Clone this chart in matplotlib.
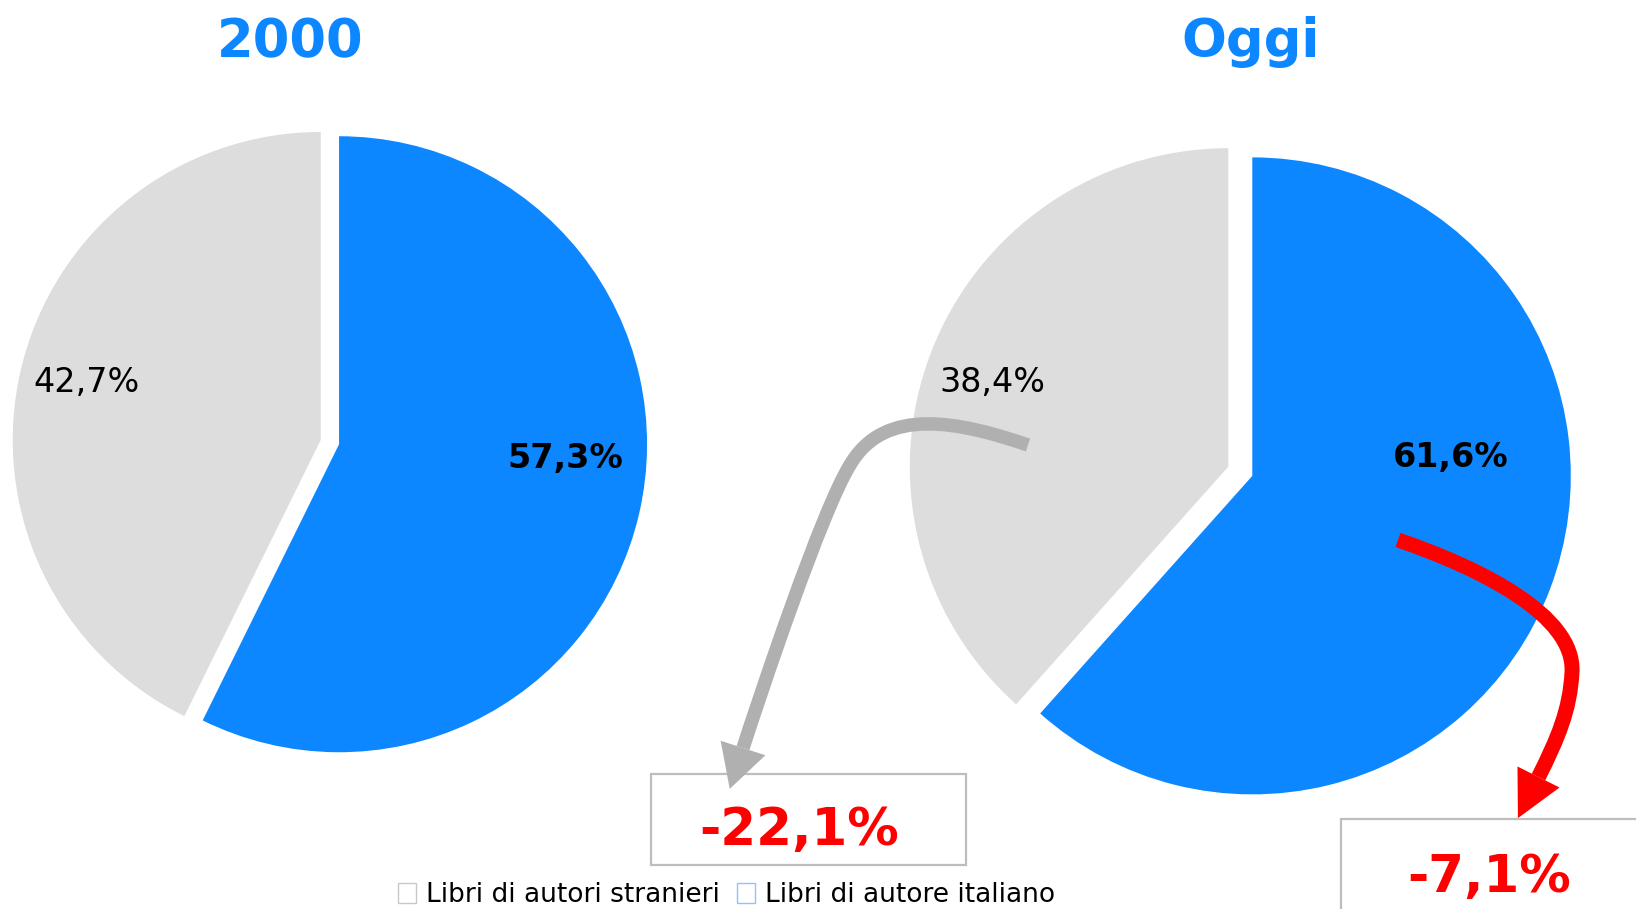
import numpy as np
import matplotlib
matplotlib.use("Agg")
import matplotlib.pyplot as plt
from matplotlib.patches import Rectangle, PathPatch, Polygon, Patch
from matplotlib.path import Path

# ---------------- data ----------------
categories = ["Libri di autore italiano", "Libri di autori stranieri"]
years = ["2000", "Oggi"]
share_2000 = [57.3, 42.7]   # italiano, stranieri
share_oggi = [61.6, 38.4]
changes = [-22.1, -7.1]     # stranieri, italiano

BLUE = "#0D87FF"
GREY = "#DDDDDD"
colors = [BLUE, GREY]

W, H = 1636, 909
fig = plt.figure(figsize=(W / 100, H / 100), dpi=100)
fig.patch.set_facecolor("white")

# pie axes: data units == pixels, y up
ax = fig.add_axes([0, 0, 1, 1])

def fmt(v):
    return f"{v:.1f}%".replace(".", ",")

pies = [
    dict(vals=share_2000, center=(329.9, H - 442.1), radius=308, expl=9.4),
    dict(vals=share_oggi, center=(1240.3, H - 471.3), radius=318.5, expl=12.85),
]
for p in pies:
    ax.pie(p["vals"], colors=colors, startangle=90, counterclock=False,
           explode=[p["expl"], p["expl"]], radius=p["radius"],
           center=p["center"], wedgeprops=dict(linewidth=0), frame=True)
ax.set_xlim(0, W)
ax.set_ylim(0, H)
ax.set_aspect("equal")
ax.axis("off")

# overlay axes in pixel coordinates, y down
ov = fig.add_axes([0, 0, 1, 1], facecolor="none")
ov.set_xlim(0, W)
ov.set_ylim(H, 0)
ov.axis("off")

# titles
title_pos = [(290.5, 57), (1250.5, 57)]
for t, (x, y) in zip(years, title_pos):
    ov.text(x, y, t, ha="center", va="baseline", fontsize=38,
            fontweight="bold", color=BLUE)

# slice labels
label_pos = [
    [(565, 468.3), (86.6, 391.7)],
    [(1451, 466.7), (992, 391.7)],
]
for p, lp in zip(pies, label_pos):
    for i, (v, (x, y)) in enumerate(zip(p["vals"], lp)):
        ov.text(x, y, fmt(v), ha="center", va="baseline",
                fontsize=24 if i == 0 else 24,
                fontweight="bold" if i == 0 else "normal", color="black")

# change boxes
boxes = [(651, 774, 315, 91), (1341, 819, 330, 110)]
box_text = [(799, 845), (1489.5, 891.7)]
for (bx, by, bw, bh), (tx, ty), c in zip(boxes, box_text, changes):
    ov.add_patch(Rectangle((bx, by), bw, bh, facecolor="white",
                           edgecolor="#BDBDBD", linewidth=1.6, zorder=2))
    ov.text(tx, ty, fmt(c), ha="center", va="baseline", fontsize=37,
            fontweight="bold", color="#FF0000", zorder=4)

# curved arrows
def curved_arrow(verts, color, lw_px, head_len, head_half):
    verts = np.array(verts, dtype=float)
    codes = [Path.MOVETO] + [Path.CURVE4] * (len(verts) - 1)
    ov.add_patch(PathPatch(Path(verts, codes), facecolor="none",
                           edgecolor=color, linewidth=lw_px * 0.72,
                           capstyle="butt", joinstyle="round", zorder=3))
    base = verts[-1]
    u = verts[-1] - verts[-2]
    u = u / np.hypot(*u)
    n = np.array([-u[1], u[0]])
    tip = base + u * head_len
    tri = [tip, base + n * head_half, base - n * head_half]
    ov.add_patch(Polygon(tri, closed=True, facecolor=color,
                         edgecolor="none", zorder=3))

grey_path = [(1028, 445), (960, 422), (885, 405), (850, 465),
             (822, 510), (761.5, 691), (743, 748)]
red_path = [(1398, 540), (1480, 568), (1575, 615), (1572, 672),
            (1570, 710), (1558, 738), (1538.5, 777)]
curved_arrow(grey_path, "#B0B0B0", 13.5, 43, 23.5)
curved_arrow(red_path, "#FF0000", 15, 46, 23.5)

# legend
handles = [Patch(facecolor="white", edgecolor="#C8C8C8", linewidth=1.0),
           Patch(facecolor="white", edgecolor="#8CC4FF", linewidth=1.0)]
leg = ov.legend(handles, [categories[1], categories[0]], loc="center",
                bbox_to_anchor=(726.5 / W, 1 - 895.5 / H),
                bbox_transform=fig.transFigure, ncol=2, frameon=False,
                fontsize=19, handlelength=0.68, handleheight=0.78,
                handletextpad=0.38, columnspacing=0.62, borderpad=0.0)

fig.savefig("out.png", dpi=100, facecolor="white")
